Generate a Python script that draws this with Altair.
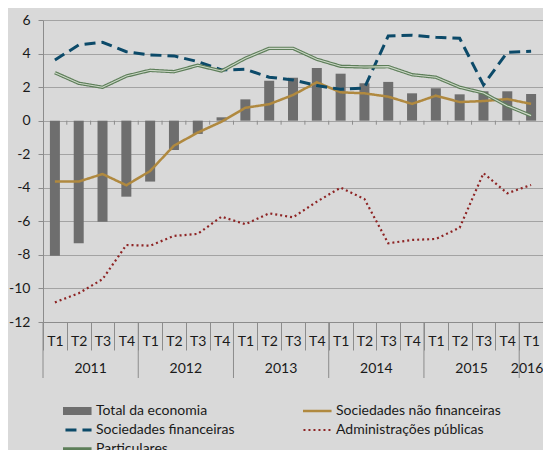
import altair as alt
import pandas as pd

# ---------------- data ----------------
years = ["2011"] * 4 + ["2012"] * 4 + ["2013"] * 4 + ["2014"] * 4 + ["2015"] * 4 + ["2016"]
quarters = ["T1", "T2", "T3", "T4"] * 5 + ["T1"]
periods = [f"{y}-{q}" for y, q in zip(years, quarters)]

total_economia = [-8.05, -7.31, -6.02, -4.53, -3.63, -1.75, -0.79, 0.20, 1.27, 2.38, 2.56,
                  3.14, 2.80, 2.23, 2.31, 1.63, 1.93, 1.57, 1.75, 1.75, 1.59]
soc_nao_financeiras = [-3.63, -3.63, -3.18, -3.85, -3.00, -1.49, -0.71, -0.06, 0.77, 0.98, 1.53,
                       2.29, 1.69, 1.63, 1.43, 1.00, 1.49, 1.11, 1.17, 1.29, 1.00]
soc_financeiras = [3.62, 4.51, 4.67, 4.11, 3.92, 3.86, 3.52, 3.02, 3.06, 2.59, 2.43,
                   2.09, 1.87, 1.95, 5.05, 5.09, 4.97, 4.91, 2.13, 4.08, 4.14]
adm_publicas = [-10.83, -10.29, -9.45, -7.41, -7.45, -6.87, -6.75, -5.72, -6.17, -5.52, -5.76,
                -4.83, -3.99, -4.67, -7.31, -7.11, -7.05, -6.38, -3.13, -4.33, -3.83]
particulares = [2.86, 2.23, 1.99, 2.66, 3.00, 2.92, 3.30, 2.96, 3.72, 4.31, 4.31,
                3.66, 3.24, 3.20, 3.22, 2.74, 2.59, 1.99, 1.65, 0.88, 0.30]

series_names = ["Total da economia", "Sociedades não financeiras", "Sociedades financeiras",
                "Administrações públicas", "Particulares"]
year_labels = ["2011", "2012", "2013", "2014", "2015"]
last_year = ["2016"]
y_ticks = list(range(-12, 7, 2))

# ---------------- styles ----------------
colors = ["#6e6e6e", "#b0893f", "#0c4a69", "#8e2424", "#5d7e59"]
dashes = [[1, 0], [1, 0], [11, 6], [2, 3], [1, 0]]
widths = [8, 2.5, 3, 2.2, 3.4]
FONT = "Lato"
FS = 14
GRID = "#a3a3a3"
AXIS = "#8c8c8c"
TXT = "#1a1a1a"
W, H = 500, 302

bars_df = pd.DataFrame({"period": periods, "value": total_economia})
line_series = {
    "Sociedades não financeiras": soc_nao_financeiras,
    "Sociedades financeiras": soc_financeiras,
    "Administrações públicas": adm_publicas,
    "Particulares": particulares,
}
lines_df = pd.concat(
    [pd.DataFrame({"period": periods, "value": v, "series": k}) for k, v in line_series.items()],
    ignore_index=True,
)
part_df = pd.DataFrame({"period": periods, "value": particulares})

xscale = alt.Scale(domain=periods, paddingInner=0, paddingOuter=0)
yscale = alt.Scale(domain=[-12, 6], nice=False)

x_axis = alt.Axis(
    labelExpr="split(datum.value, '-')[1]", tickBand="extent", tickSize=28,
    tickColor=AXIS, domainColor=AXIS, labelPadding=-16, labelAngle=0,
    labelFont=FONT, labelFontSize=FS, labelColor=TXT, grid=False, labelOverlap=False,
)
y_axis = alt.Axis(
    values=y_ticks, labelExpr="'' + datum.value", tickSize=5, tickColor=AXIS,
    domainColor=AXIS, gridColor=GRID, labelFont=FONT, labelFontSize=FS,
    labelColor=TXT, labelPadding=8,
)


def xe(bp=None):
    if bp is None:
        return alt.X("period:N", scale=xscale, title=None, axis=x_axis)
    return alt.X("period:N", scale=xscale, title=None, axis=x_axis, bandPosition=bp)


def ye():
    return alt.Y("value:Q", scale=yscale, title=None, axis=y_axis)


bars = alt.Chart(bars_df).mark_bar(width=alt.RelativeBandSize(0.42), color=colors[0]).encode(
    x=xe(), y=ye()
)

legend = alt.Legend(
    title=None, orient="none", legendX=20, legendY=383, columns=2, direction="horizontal",
    gridAlign="all", columnPadding=42, rowPadding=3, clipHeight=16,
    symbolType="M-8,0H8", symbolSize=29,
    labelOffset=19, labelFont=FONT, labelFontSize=FS, labelColor=TXT, labelLimit=300,
)
lines = alt.Chart(lines_df).mark_line().encode(
    x=xe(), y=ye(),
    color=alt.Color("series:N", scale=alt.Scale(domain=series_names, range=colors), legend=legend),
    strokeDash=alt.StrokeDash("series:N", scale=alt.Scale(domain=series_names, range=dashes), legend=legend),
    strokeWidth=alt.StrokeWidth("series:N", scale=alt.Scale(type="ordinal", domain=series_names, range=widths), legend=legend),
    detail="series:N",
)
inner = alt.Chart(part_df).mark_line(color="#cdd8c8", strokeWidth=1.1).encode(x=xe(), y=ye())

zero_ticks = alt.Chart(pd.DataFrame({"period": periods[1:]})).mark_rule(color=AXIS).encode(
    x=xe(0), y=alt.datum(0, scale=yscale, axis=y_axis, title=None), y2=alt.datum(-0.24),
)
year_starts = [p for p in periods if p.endswith("T1")]
year_seps = alt.Chart(pd.DataFrame({"period": year_starts})).mark_rule(color=AXIS).encode(
    x=xe(0), y=alt.value(H), y2=alt.value(H + 56),
)
year_text = alt.Chart(pd.DataFrame({"year": year_labels})).transform_calculate(
    period="datum.year + '-T2'"
).mark_text(font=FONT, fontSize=FS, color=TXT, baseline="middle").encode(
    x=xe(1), y=alt.value(H + 47), text="year:N"
)
year_text_last = alt.Chart(pd.DataFrame({"year": last_year})).transform_calculate(
    period="datum.year + '-T1'"
).mark_text(font=FONT, fontSize=FS, color=TXT, baseline="middle", dx=-4).encode(
    x=xe(0.5), y=alt.value(H + 47), text="year:N"
)

chart = alt.layer(
    bars, zero_ticks, lines, inner, year_seps, year_text, year_text_last
).properties(
    width=W, height=H, background="#d9d9d9",
    autosize=alt.AutoSizeParams(type="none"),
    padding={"left": 35, "top": 12, "right": 0, "bottom": 128},
).configure_view(stroke=None)

chart.save("out.html", embed_options={"renderer": "svg", "actions": False})
